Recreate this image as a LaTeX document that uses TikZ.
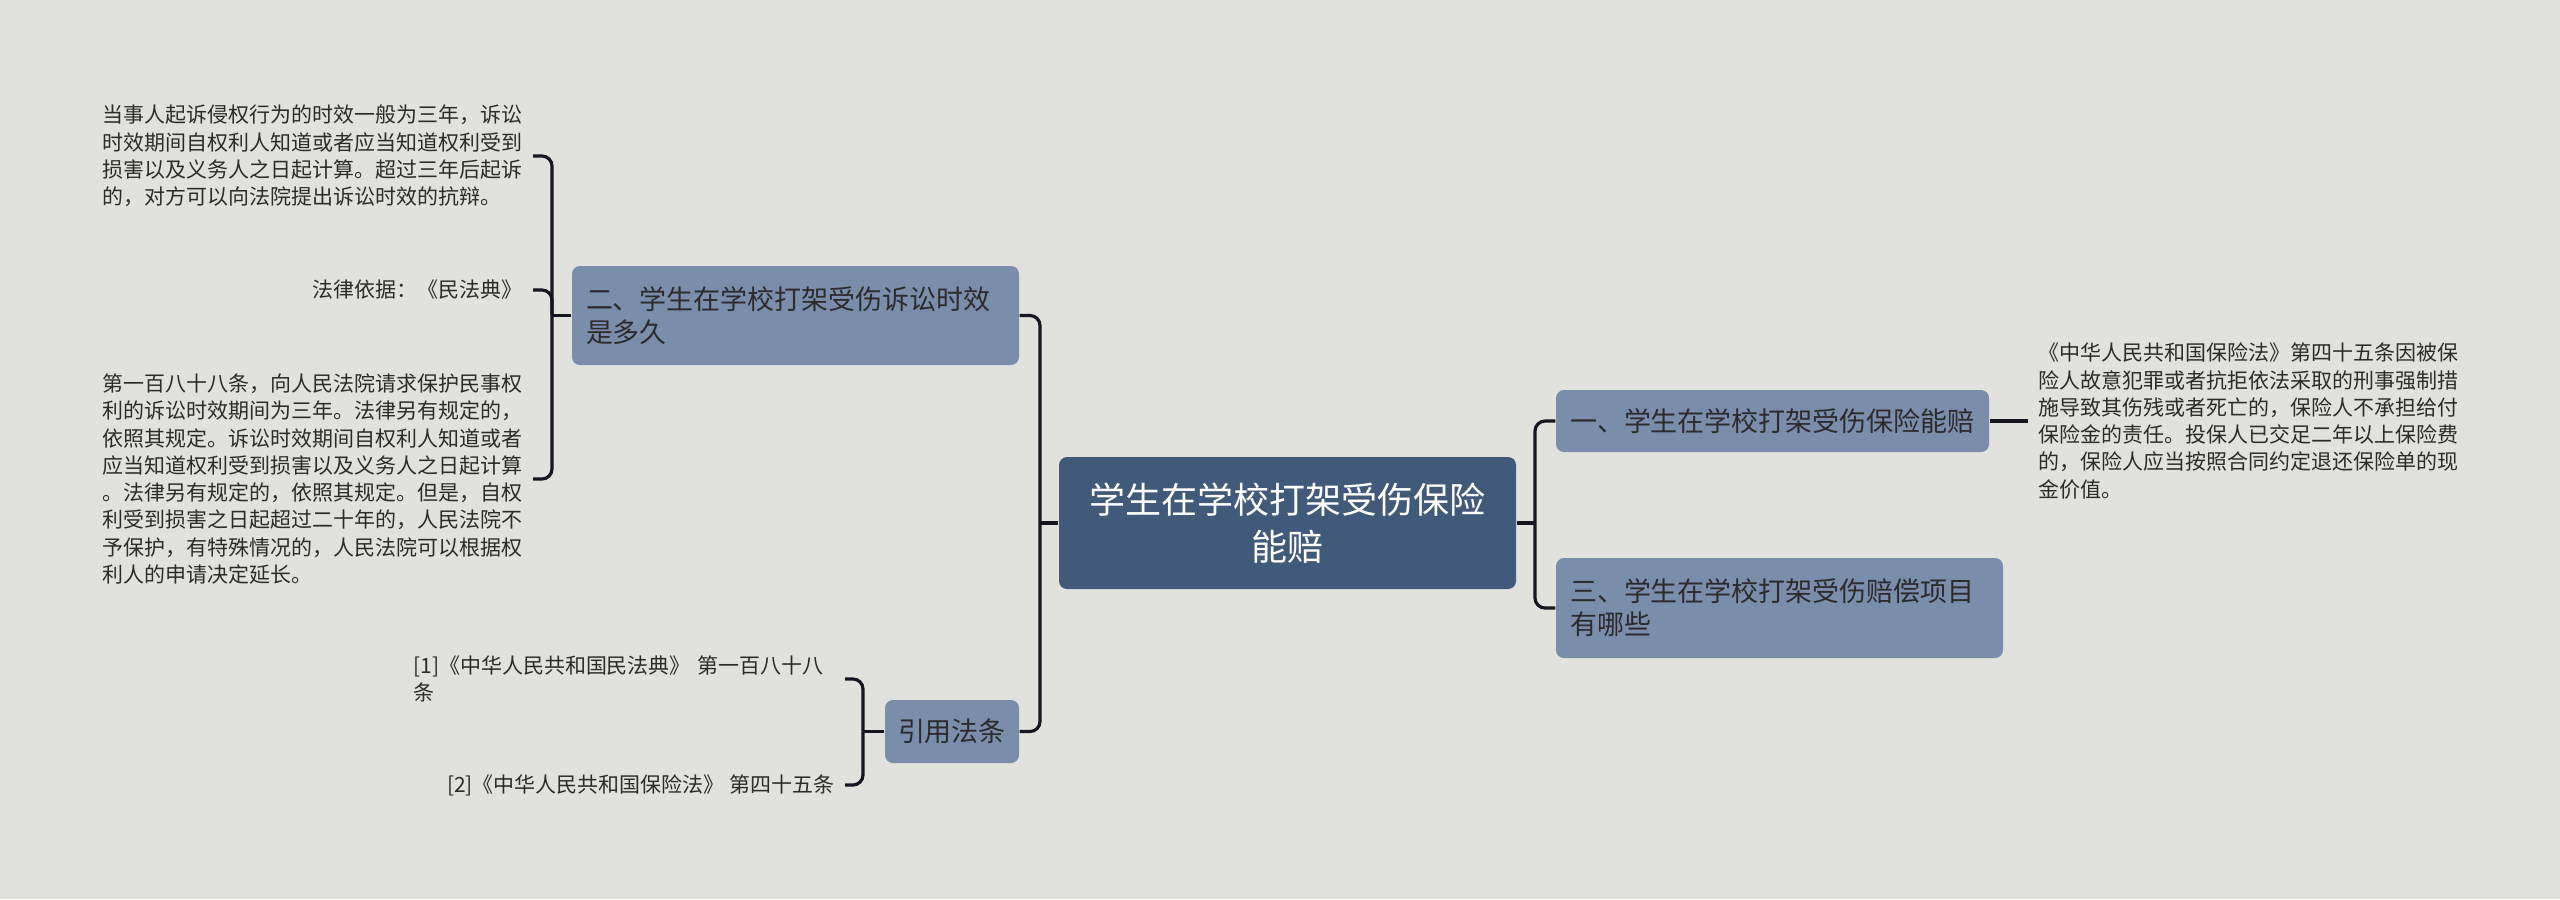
\documentclass[tikz,border=0pt]{standalone}
\usepackage{fontspec}
\setmainfont{Noto Sans CJK SC}
\usetikzlibrary{positioning}
\definecolor{bgcol}{HTML}{E1E2DD}
\definecolor{rootcol}{HTML}{425A7A}
\definecolor{topiccol}{HTML}{7A8DAB}
\definecolor{linecol}{HTML}{15161F}
\definecolor{txtcol}{HTML}{2B2B2B}

\begin{document}
\begin{tikzpicture}[x=0.1mm, y=-0.1mm,
  rootbox/.style={fill=rootcol, text=white, rounded corners=0.8mm, align=center,
    minimum width=45.7mm, minimum height=13.2mm, inner sep=0pt,
    font=\fontsize{10.25}{13.4}\selectfont},
  topicbox/.style={fill=topiccol, text=txtcol, rounded corners=0.8mm, align=left,
    inner xsep=1.4mm, inner ysep=0pt, font=\fontsize{7.68}{9.4}\selectfont},
  leaftext/.style={text=txtcol, align=left, inner xsep=1mm, inner ysep=0pt,
    font=\fontsize{5.97}{7.77}\selectfont},
  conn/.style={draw=linecol, line width=0.9pt, rounded corners=1mm}]

% Canvas
\fill[bgcol] (0,0) rectangle (2560,899);
\useasboundingbox (0,0) rectangle (2560,899);

% Root
\node[rootbox] (root) at (1287.5,523) {学生在学校打架受伤保险\\能赔};

% Topics
\node[topicbox, text width=41.9mm, minimum height=9.9mm] (limit) at (795.5,315.5)
  {二、学生在学校打架受伤诉讼时效\\是多久};
\node[topicbox, text width=10.8mm, inner xsep=1.3mm, minimum height=6.3mm] (cite) at (952,731.5)
  {引用法条};
\node[topicbox, text width=40.5mm, minimum height=6.2mm] (claim) at (1772.5,421)
  {一、学生在学校打架受伤保险能赔};
\node[topicbox, text width=41.9mm, minimum height=10mm] (items) at (1779.5,608)
  {三、学生在学校打架受伤赔偿项目\\有哪些};

% Leaves of the time-limit topic
\node[leaftext, anchor=east] (limitA) at (533,156)
  {当事人起诉侵权行为的时效一般为三年，诉讼\\时效期间自权利人知道或者应当知道权利受到\\损害以及义务人之日起计算。超过三年后起诉\\的，对方可以向法院提出诉讼时效的抗辩。};
\node[leaftext, anchor=east] (limitB) at (533,290) {法律依据：《民法典》};
\node[leaftext, anchor=east] (limitC) at (533,479)
  {第一百八十八条，向人民法院请求保护民事权\\利的诉讼时效期间为三年。法律另有规定的，\\依照其规定。诉讼时效期间自权利人知道或者\\应当知道权利受到损害以及义务人之日起计算\\。法律另有规定的，依照其规定。但是，自权\\利受到损害之日起超过二十年的，人民法院不\\予保护，有特殊情况的，人民法院可以根据权\\利人的申请决定延长。};

% Leaves of the citation topic
\node[leaftext, anchor=east, text width=42.1mm] (citeA) at (845,679)
  {[1]《中华人民共和国民法典》 第一百八十八\\条};
\node[leaftext, anchor=east] (citeB) at (845,785)
  {[2]《中华人民共和国保险法》 第四十五条};

% Leaf of the claim topic
\node[leaftext, anchor=west] (claimA) at (2028,421)
  {《中华人民共和国保险法》第四十五条因被保\\险人故意犯罪或者抗拒依法采取的刑事强制措\\施导致其伤残或者死亡的，保险人不承担给付\\保险金的责任。投保人已交足二年以上保险费\\的，保险人应当按照合同约定退还保险单的现\\金价值。};

% Bus points
\coordinate (busL) at (1040,523);
\coordinate (busR) at (1535,523);
\coordinate (busLimit) at (552,315.5);
\coordinate (busCite) at (863,731.5);

% Connectors
\draw[conn] (root.west) -- (busL);
\draw[conn] (busL) |- (limit.east);
\draw[conn] (busL) |- (cite.east);
\draw[conn] (root.east) -- (busR);
\draw[conn] (busR) |- (claim.west);
\draw[conn] (busR) |- (items.west);
\draw[conn] (limit.west) -- (busLimit);
\draw[conn] (busLimit) |- (limitA.east);
\draw[conn] (busLimit) |- (limitB.east);
\draw[conn] (busLimit) |- (limitC.east);
\draw[conn] (cite.west) -- (busCite);
\draw[conn] (busCite) |- (citeA.east);
\draw[conn] (busCite) |- (citeB.east);
\draw[conn] (claim.east) -- (claimA.west);

\end{tikzpicture}
\end{document}
